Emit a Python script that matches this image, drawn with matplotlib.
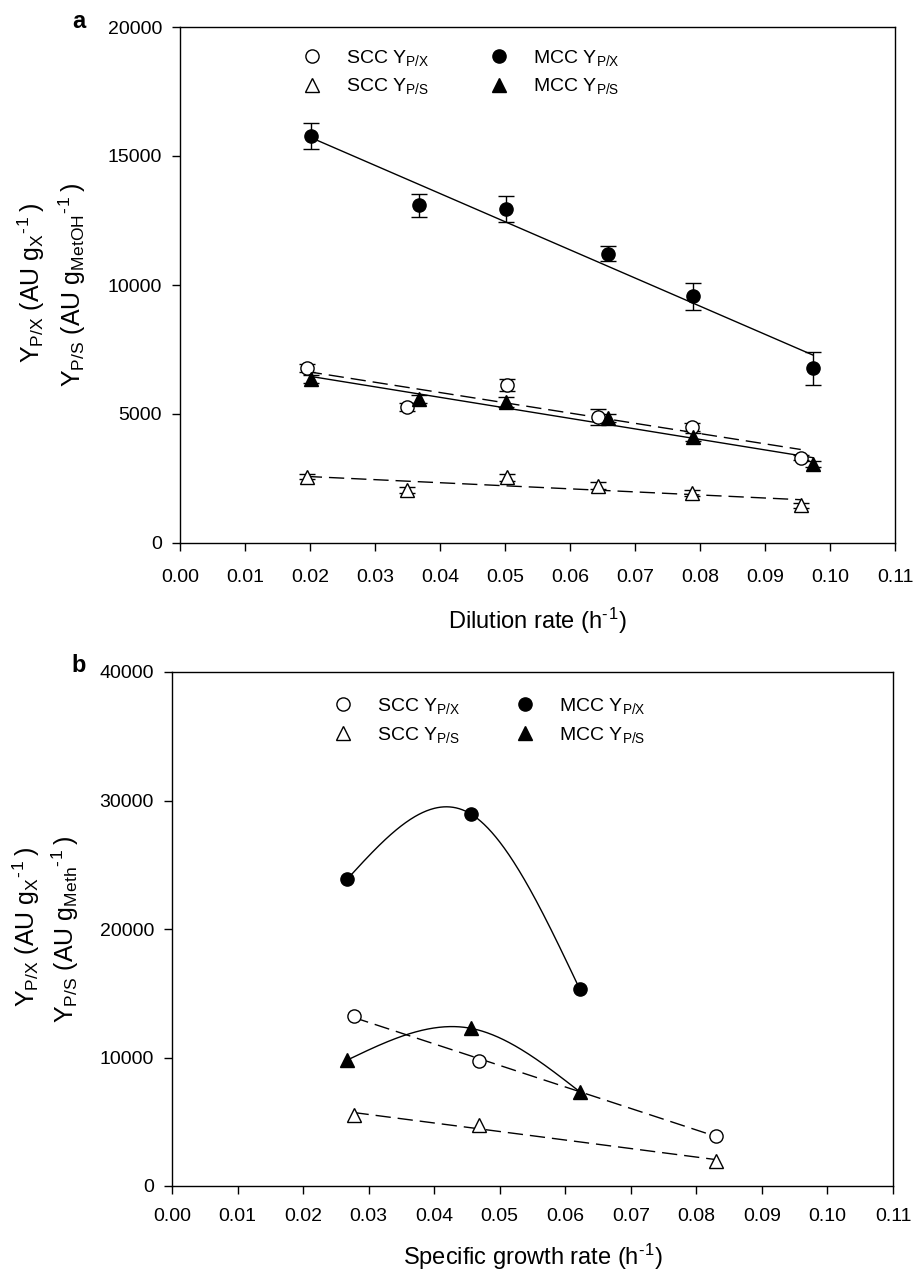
import numpy as np
import matplotlib
matplotlib.use("Agg")
import matplotlib.pyplot as plt
from matplotlib.lines import Line2D

plt.rcParams['font.family'] = ['Liberation Sans', 'DejaVu Sans']
plt.rcParams['mathtext.fontset'] = 'custom'
plt.rcParams['mathtext.rm'] = 'Liberation Sans'
plt.rcParams['mathtext.it'] = 'Liberation Sans:italic'
plt.rcParams['mathtext.bf'] = 'Liberation Sans:bold'
plt.rcParams['mathtext.default'] = 'regular'

# ---------------- Panel a data (dilution rate) ----------------
dil_scc = [0.0195, 0.0349, 0.0503, 0.0643, 0.0788, 0.0955]
scc_px_a = [6770, 5285, 6125, 4890, 4510, 3305]
scc_px_a_err = [150, 150, 230, 300, 150, 100]
scc_ps_a = [2570, 2055, 2545, 2225, 1940, 1460]
scc_ps_a_err = [100, 120, 130, 130, 100, 100]

dil_mcc = [0.0202, 0.0367, 0.0501, 0.0659, 0.0789, 0.0974]
mcc_px_a = [15775, 13090, 12945, 11215, 9560, 6770]
mcc_px_a_err = [500, 440, 520, 300, 510, 650]
mcc_ps_a = [6345, 5580, 5475, 4845, 4120, 3060]
mcc_ps_a_err = [150, 150, 200, 150, 150, 120]

# ---------------- Panel b data (specific growth rate) ----------------
mu_scc = [0.0277, 0.0468, 0.0830]
scc_px_b = [13230, 9750, 3915]
scc_ps_b = [5525, 4750, 1950]

mu_mcc = [0.02675, 0.0456, 0.0622]
mcc_px_b = [23890, 28950, 15330]
mcc_ps_b = [9805, 12270, 7340]

xticks = [0.00, 0.01, 0.02, 0.03, 0.04, 0.05, 0.06, 0.07, 0.08, 0.09, 0.10, 0.11]
yticks_a = [0, 5000, 10000, 15000, 20000]
yticks_b = [0, 10000, 20000, 30000, 40000]

legend_labels = [r"SCC Y$_{P/X}$", r"SCC Y$_{P/S}$", r"MCC Y$_{P/X}$", r"MCC Y$_{P/S}$"]


def natural_spline(x, y, n=300):
    x = np.asarray(x, float)
    y = np.asarray(y, float)
    m = len(x)
    h = np.diff(x)
    A = np.zeros((m, m))
    r = np.zeros(m)
    A[0, 0] = 1.0
    A[-1, -1] = 1.0
    for i in range(1, m - 1):
        A[i, i - 1] = h[i - 1]
        A[i, i] = 2 * (h[i - 1] + h[i])
        A[i, i + 1] = h[i]
        r[i] = 6 * ((y[i + 1] - y[i]) / h[i] - (y[i] - y[i - 1]) / h[i - 1])
    M = np.linalg.solve(A, r)
    xs = np.linspace(x[0], x[-1], n)
    ys = np.empty_like(xs)
    for k, xv in enumerate(xs):
        i = min(np.searchsorted(x, xv, side='right') - 1, m - 2)
        i = max(i, 0)
        t1 = x[i + 1] - xv
        t0 = xv - x[i]
        ys[k] = (M[i] * t1 ** 3 / (6 * h[i]) + M[i + 1] * t0 ** 3 / (6 * h[i])
                 + (y[i] / h[i] - M[i] * h[i] / 6) * t1
                 + (y[i + 1] / h[i] - M[i + 1] * h[i] / 6) * t0)
    return xs, ys


def fit_line(x, y):
    p = np.polyfit(x, y, 1)
    xs = np.array([min(x), max(x)])
    return xs, np.polyval(p, xs)


MS = 9.5
DASH = (11, 5)
FS_TICK = 14
FS_LAB = 17

fig = plt.figure(figsize=(9.17, 12.72), dpi=100)
ax_a = fig.add_axes([180 / 917, 1 - 543 / 1272, 715 / 917, 516 / 1272])
ax_b = fig.add_axes([172 / 917, 1 - 1186 / 1272, 721 / 917, 514 / 1272])


def style_axes(ax, yticks, ylim, xpad):
    ax.set_xlim(0, 0.11)
    ax.set_ylim(*ylim)
    ax.set_xticks(xticks)
    ax.set_xticklabels(["%.2f" % v for v in xticks])
    ax.set_yticks(yticks)
    ax.set_yticklabels([str(v) for v in yticks])
    ax.tick_params(direction='out', length=6, width=1, labelsize=FS_TICK,
                   top=False, right=False)
    ax.tick_params(axis='x', pad=xpad)
    ax.tick_params(axis='y', pad=7)
    for s in ax.spines.values():
        s.set_linewidth(1.0)


# ---------- panel a ----------
ax = ax_a
xs, ys = fit_line(dil_mcc, mcc_px_a)
ax.plot(xs, ys, 'k-', lw=1.0, zorder=2)
xs, ys = fit_line(dil_mcc, mcc_ps_a)
ax.plot(xs, ys, 'k-', lw=1.0, zorder=2)
xs, ys = fit_line(dil_scc, scc_px_a)
ax.plot(xs, ys, 'k-', lw=1.0, dashes=DASH, zorder=2)
xs, ys = fit_line(dil_scc, scc_ps_a)
ax.plot(xs, ys, 'k-', lw=1.0, dashes=DASH, zorder=2)

eb = dict(ls='none', ecolor='k', elinewidth=1.0, capsize=5.5, capthick=1.0,
          markersize=MS, markeredgecolor='k', markeredgewidth=1.0, zorder=3)
ax.errorbar(dil_scc, scc_px_a, yerr=scc_px_a_err, marker='o', markerfacecolor='white', **eb)
ax.errorbar(dil_scc, scc_ps_a, yerr=scc_ps_a_err, marker='^', markerfacecolor='white', **eb)
ax.errorbar(dil_mcc, mcc_px_a, yerr=mcc_px_a_err, marker='o', markerfacecolor='k', **eb)
ax.errorbar(dil_mcc, mcc_ps_a, yerr=mcc_ps_a_err, marker='^', markerfacecolor='k', **eb)
style_axes(ax, yticks_a, (0, 20000), 13)
ax.set_xlabel("Dilution rate (h$^{\u2010}$$^{1}$)", fontsize=FS_LAB, labelpad=14)

# ---------- panel b ----------
ax = ax_b
xs, ys = natural_spline(mu_mcc, mcc_px_b)
ax.plot(xs, ys, 'k-', lw=1.0, zorder=2)
xs, ys = natural_spline(mu_mcc, mcc_ps_b)
ax.plot(xs, ys, 'k-', lw=1.0, zorder=2)
xs, ys = fit_line(mu_scc, scc_px_b)
ax.plot(xs, ys, 'k-', lw=1.0, dashes=DASH, zorder=2)
xs, ys = fit_line(mu_scc, scc_ps_b)
ax.plot(xs, ys, 'k-', lw=1.0, dashes=DASH, zorder=2)
mk = dict(ls='none', markersize=MS, markeredgecolor='k', markeredgewidth=1.0, zorder=3)
ax.plot(mu_scc, scc_px_b, marker='o', markerfacecolor='white', **mk)
ax.plot(mu_scc, scc_ps_b, marker='^', markerfacecolor='white', **mk)
ax.plot(mu_mcc, mcc_px_b, marker='o', markerfacecolor='k', **mk)
ax.plot(mu_mcc, mcc_ps_b, marker='^', markerfacecolor='k', **mk)
style_axes(ax, yticks_b, (0, 40000), 10)
ax.set_xlabel("Specific growth rate (h$^{\u2010}$$^{1}$)", fontsize=FS_LAB, labelpad=12)

# ---------- legends ----------
def make_handles():
    hs = []
    for m, fc in [('o', 'white'), ('^', 'white'), ('o', 'k'), ('^', 'k')]:
        hs.append(Line2D([], [], ls='none', marker=m, markersize=MS,
                         markerfacecolor=fc, markeredgecolor='k', markeredgewidth=1.0))
    return hs

ax_a.legend(make_handles(), legend_labels, ncol=2, loc='upper left',
            bbox_to_anchor=(0.1706, 0.960), frameon=False, fontsize=FS_TICK,
            handlelength=1.0, handletextpad=1.25, columnspacing=3.1,
            labelspacing=0.45, borderpad=0, borderaxespad=0)
ax_b.legend(make_handles(), legend_labels, ncol=2, loc='upper left',
            bbox_to_anchor=(0.2237, 0.953), frameon=False, fontsize=FS_TICK,
            handlelength=1.0, handletextpad=1.25, columnspacing=2.8,
            labelspacing=0.45, borderpad=0, borderaxespad=0)

# ---------- y labels (two lines) ----------
FS_Y = 18
fig.text(31 / 917, 1 - 283 / 1272, "Y$_{P/X}$ (AU g$_{X}$$^{\u2010}$$^{1}$\u2009)",
         rotation=90, ha='center', va='center', fontsize=FS_Y)
fig.text(72 / 917, 1 - 285 / 1272, "Y$_{P/S}$ (AU g$_{MetOH}$$^{\u2010}$$^{1}$\u2009)",
         rotation=90, ha='center', va='center', fontsize=FS_Y)
fig.text(26 / 917, 1 - 927 / 1272, "Y$_{P/X}$ (AU g$_{X}$$^{\u2010}$$^{1}$\u2009)",
         rotation=90, ha='center', va='center', fontsize=FS_Y)
fig.text(65 / 917, 1 - 929 / 1272, "Y$_{P/S}$ (AU g$_{Meth}$$^{\u2010}$$^{1}$\u2009)",
         rotation=90, ha='center', va='center', fontsize=FS_Y)

# panel letters
fig.text(79 / 917, 1 - 21 / 1272, "a", fontsize=17, fontweight='bold', ha='center', va='center')
fig.text(79 / 917, 1 - 665 / 1272, "b", fontsize=17, fontweight='bold', ha='center', va='center')

fig.savefig("out.png", dpi=100)
